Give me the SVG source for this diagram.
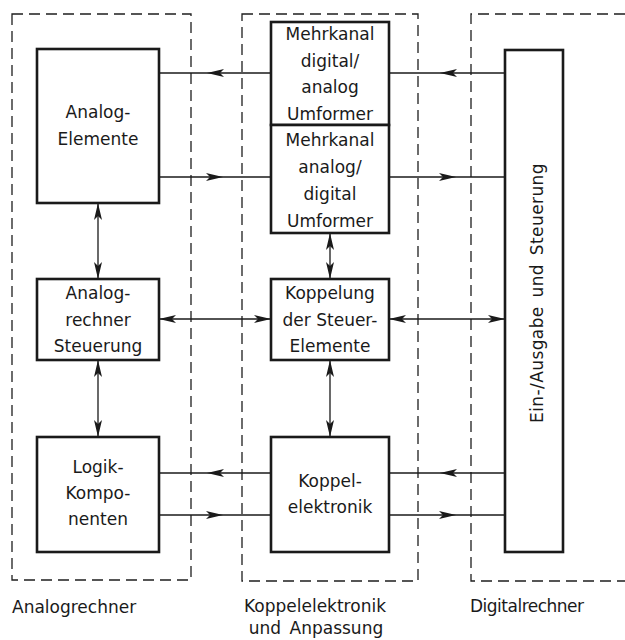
<svg xmlns="http://www.w3.org/2000/svg" width="625" height="640" viewBox="0 0 625 640">
<defs>
<marker id="ah" markerUnits="userSpaceOnUse" markerWidth="18" markerHeight="9" refX="17" refY="4" orient="auto-start-reverse" overflow="visible">
<path d="M0,0 L17,4 L0,8 L4,4 z" fill="#1a1a1a"/>
</marker>
<style>
.grp{fill:none;stroke:#1e1e1e;stroke-width:1.3;stroke-dasharray:11 6}
.box{fill:#fff;stroke:#1a1a1a;stroke-width:2.6}
.con{fill:none;stroke:#1a1a1a;stroke-width:1.3}
.mid{marker-mid:url(#ah)}
.dbl{marker-start:url(#ah);marker-end:url(#ah)}
text{font-family:"DejaVu Sans","Liberation Sans",sans-serif;font-size:17px;fill:#1a1a1a}
.c{text-anchor:middle}
</style>
</defs>
<rect width="625" height="640" fill="#fff"/>
<g id="regions">
<rect class="grp" x="12" y="14" width="179" height="566"/>
<rect class="grp" x="242" y="14" width="176" height="567"/>
<path class="grp" d="M625,14 L471,14 L471,581 L625,581"/>
</g>
<g id="connectors">
<path class="con mid" d="M271,73 L207,73 L159,73"/>
<path class="con mid" d="M505,73 L440,73 L389,73"/>
<path class="con mid" d="M159,177 L223,177 L271,177"/>
<path class="con mid" d="M389,177 L456,177 L505,177"/>
<path class="con dbl" d="M98,203 L98,279"/>
<path class="con dbl" d="M330,233 L330,279"/>
<path class="con dbl" d="M159,319 L271,319"/>
<path class="con dbl" d="M389,319 L505,319"/>
<path class="con dbl" d="M98,360 L98,437"/>
<path class="con dbl" d="M330,360 L330,437"/>
<path class="con mid" d="M271,473 L207,473 L159,473"/>
<path class="con mid" d="M505,473 L440,473 L389,473"/>
<path class="con mid" d="M159,515 L223,515 L271,515"/>
<path class="con mid" d="M389,515 L456,515 L505,515"/>
</g>
<g id="analog-elemente">
<rect class="box" x="37" y="49" width="122" height="154"/>
<text class="c" x="98" y="118">Analog-</text>
<text class="c" x="98" y="145">Elemente</text>
</g>
<g id="da-umformer">
<rect class="box" x="271" y="22" width="118" height="103"/>
<text class="c" x="330" y="40">Mehrkanal</text>
<text class="c" x="330" y="67">digital/</text>
<text class="c" x="330" y="93">analog</text>
<text class="c" x="330" y="120">Umformer</text>
</g>
<g id="ad-umformer">
<rect class="box" x="271" y="125" width="118" height="108"/>
<text class="c" x="330" y="146">Mehrkanal</text>
<text class="c" x="330" y="173">analog/</text>
<text class="c" x="330" y="200">digital</text>
<text class="c" x="330" y="227">Umformer</text>
</g>
<g id="analogrechner-steuerung">
<rect class="box" x="37" y="279" width="122" height="81"/>
<text class="c" x="98" y="299">Analog-</text>
<text class="c" x="98" y="326">rechner</text>
<text class="c" x="98" y="352">Steuerung</text>
</g>
<g id="koppelung">
<rect class="box" x="271" y="279" width="118" height="81"/>
<text class="c" x="330" y="299">Koppelung</text>
<text class="c" x="330" y="326">der Steuer-</text>
<text class="c" x="330" y="352">Elemente</text>
</g>
<g id="logik">
<rect class="box" x="37" y="437" width="122" height="115"/>
<text class="c" x="98" y="473">Logik-</text>
<text class="c" x="98" y="499">Kompo-</text>
<text class="c" x="98" y="525">nenten</text>
</g>
<g id="koppelelektronik">
<rect class="box" x="271" y="437" width="118" height="115"/>
<text class="c" x="330" y="487">Koppel-</text>
<text class="c" x="330" y="513">elektronik</text>
</g>
<g id="ein-ausgabe">
<rect class="box" x="505" y="50" width="58" height="502"/>
<text class="c" transform="translate(543,293) rotate(-90)" x="0" y="0" letter-spacing="0.4" word-spacing="3">Ein-/Ausgabe und Steuerung</text>
</g>
<g id="labels">
<text x="12" y="613">Analogrechner</text>
<text class="c" x="315" y="612">Koppelelektronik</text>
<text class="c" x="316" y="634" word-spacing="3">und Anpassung</text>
<text x="470" y="612" letter-spacing="-0.5">Digitalrechner</text>
</g>
</svg>
